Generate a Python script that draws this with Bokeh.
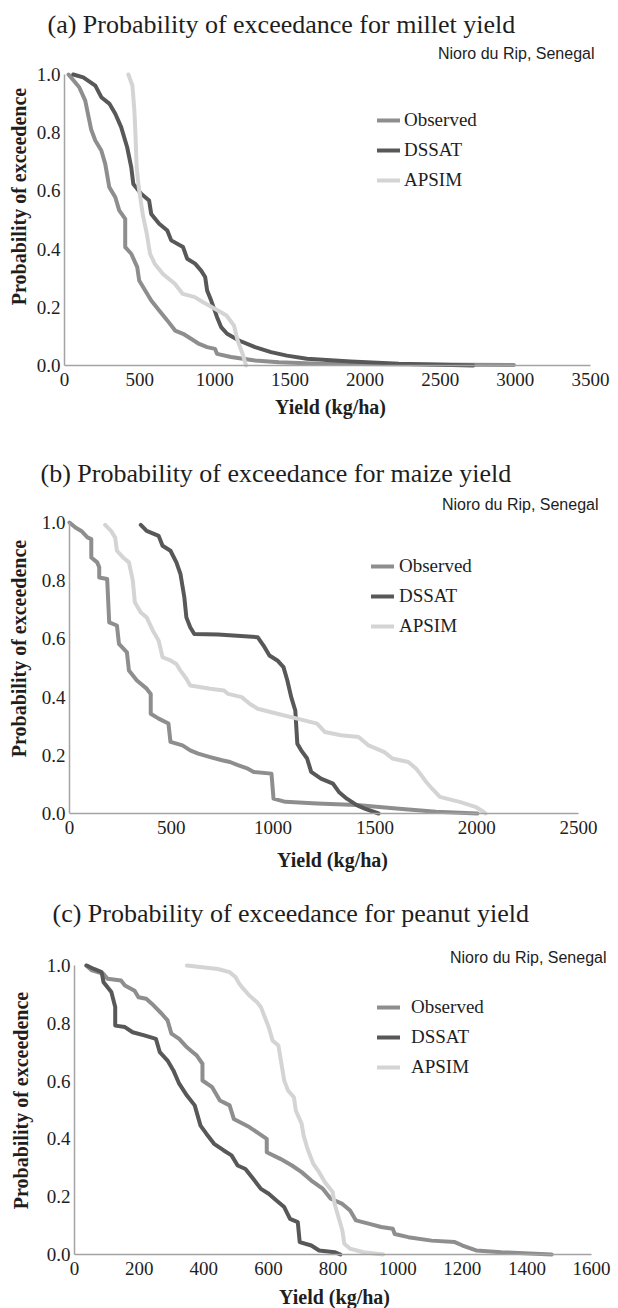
import math
from bokeh.plotting import figure
from bokeh.layouts import column
from bokeh.models import Label, Legend, LegendItem, FixedTicker, NumeralTickFormatter, Range1d
from bokeh.embed import file_html
from bokeh.resources import INLINE

SERIES = ["Observed", "DSSAT", "APSIM"]
COLORS = ["#8e8e8e", "#585858", "#d4d4d4"]
LOCATION = "Nioro du Rip, Senegal"
X_TITLE = "Yield (kg/ha)"
Y_TITLE = "Probability of exceedence"
Y_TICKS = [0.0, 0.2, 0.4, 0.6, 0.8, 1.0]

# ---- (a) millet ----
millet_title = "(a) Probability of exceedance for millet yield"
millet_xticks = [0, 500, 1000, 1500, 2000, 2500, 3000, 3500]
millet_obs_x = [27, 98, 138, 178, 205, 245, 271, 298, 338, 364, 404, 404, 444, 484, 497, 537, 577, 630, 684, 736, 789, 842, 896, 949, 1002, 1015, 1108, 1188, 1268, 1427, 1693, 2200, 2990]
millet_obs_p = [1.0, 0.956, 0.91, 0.81, 0.773, 0.739, 0.693, 0.613, 0.578, 0.533, 0.504, 0.407, 0.384, 0.338, 0.292, 0.258, 0.223, 0.189, 0.155, 0.12, 0.109, 0.092, 0.074, 0.063, 0.057, 0.04, 0.029, 0.023, 0.017, 0.011, 0.006, 0.004, 0.002]
millet_dssat_x = [58, 125, 205, 245, 298, 338, 377, 417, 444, 458, 510, 563, 577, 630, 684, 710, 789, 816, 869, 909, 936, 949, 976, 1015, 1042, 1082, 1161, 1268, 1374, 1480, 1613, 1905, 2224, 2720]
millet_dssat_p = [1.0, 0.99, 0.962, 0.922, 0.9, 0.865, 0.819, 0.75, 0.682, 0.624, 0.59, 0.567, 0.521, 0.487, 0.464, 0.43, 0.407, 0.367, 0.35, 0.326, 0.304, 0.258, 0.223, 0.166, 0.132, 0.109, 0.086, 0.063, 0.046, 0.034, 0.023, 0.014, 0.006, 0.0]
millet_apsim_x = [425, 452, 465, 472, 480, 494, 520, 548, 569, 601, 654, 734, 787, 867, 920, 1000, 1078, 1128, 1152, 1185, 1208]
millet_apsim_p = [1.0, 0.962, 0.876, 0.796, 0.682, 0.613, 0.521, 0.452, 0.384, 0.349, 0.315, 0.281, 0.246, 0.235, 0.218, 0.195, 0.172, 0.137, 0.086, 0.04, 0.0]

# ---- (b) maize ----
maize_title = "(b) Probability of exceedance for maize yield"
maize_xticks = [0, 500, 1000, 1500, 2000, 2500]
maize_obs_x = [0, 29, 58, 88, 107, 107, 136, 146, 146, 185, 195, 233, 243, 282, 292, 331, 379, 399, 399, 438, 486, 496, 555, 593, 632, 691, 749, 788, 827, 876, 905, 992, 1002, 1060, 1216, 1411, 1605, 1800, 2004]
maize_obs_p = [1.0, 0.983, 0.971, 0.949, 0.943, 0.88, 0.863, 0.846, 0.811, 0.806, 0.657, 0.646, 0.583, 0.554, 0.491, 0.457, 0.429, 0.411, 0.343, 0.326, 0.309, 0.246, 0.234, 0.217, 0.206, 0.194, 0.183, 0.177, 0.166, 0.154, 0.143, 0.137, 0.051, 0.04, 0.034, 0.029, 0.017, 0.006, 0.0]
maize_dssat_x = [350, 379, 438, 457, 496, 525, 545, 564, 574, 593, 613, 730, 924, 953, 982, 1021, 1051, 1070, 1089, 1109, 1119, 1138, 1167, 1187, 1235, 1294, 1323, 1362, 1411, 1450, 1518]
maize_dssat_p = [0.992, 0.971, 0.954, 0.92, 0.903, 0.863, 0.823, 0.743, 0.674, 0.64, 0.617, 0.615, 0.606, 0.577, 0.543, 0.526, 0.503, 0.457, 0.4, 0.354, 0.24, 0.217, 0.189, 0.143, 0.12, 0.103, 0.074, 0.051, 0.029, 0.017, 0.0]
maize_apsim_x = [175, 204, 224, 233, 263, 292, 311, 321, 350, 379, 409, 438, 457, 496, 525, 545, 574, 593, 691, 759, 779, 846, 885, 924, 1021, 1119, 1216, 1255, 1333, 1420, 1469, 1547, 1586, 1664, 1703, 1722, 1751, 1780, 1819, 1916, 1994, 2033, 2043]
maize_apsim_p = [0.992, 0.971, 0.949, 0.903, 0.88, 0.863, 0.8, 0.726, 0.691, 0.674, 0.629, 0.594, 0.537, 0.526, 0.514, 0.491, 0.463, 0.44, 0.429, 0.423, 0.411, 0.4, 0.377, 0.36, 0.343, 0.326, 0.309, 0.28, 0.269, 0.263, 0.234, 0.211, 0.189, 0.177, 0.154, 0.137, 0.109, 0.086, 0.057, 0.04, 0.023, 0.006, 0.0]

# ---- (c) peanut ----
peanut_title = "(c) Probability of exceedance for peanut yield"
peanut_xticks = [0, 200, 400, 600, 800, 1000, 1200, 1400, 1600]
peanut_obs_x = [36, 54, 90, 102, 144, 156, 186, 198, 222, 240, 270, 288, 300, 324, 348, 366, 378, 396, 396, 426, 450, 480, 493, 541, 571, 595, 595, 637, 673, 703, 733, 769, 793, 829, 853, 871, 913, 949, 985, 991, 1033, 1105, 1177, 1201, 1243, 1321, 1477]
peanut_obs_p = [1.0, 0.983, 0.971, 0.954, 0.948, 0.931, 0.913, 0.89, 0.885, 0.867, 0.833, 0.81, 0.764, 0.746, 0.717, 0.7, 0.689, 0.66, 0.602, 0.579, 0.533, 0.516, 0.469, 0.441, 0.418, 0.4, 0.354, 0.331, 0.308, 0.285, 0.256, 0.227, 0.193, 0.175, 0.152, 0.118, 0.106, 0.095, 0.089, 0.071, 0.06, 0.048, 0.043, 0.031, 0.014, 0.008, 0.0]
peanut_dssat_x = [38, 60, 84, 90, 114, 126, 126, 156, 180, 216, 252, 264, 288, 306, 324, 348, 372, 390, 408, 432, 462, 486, 505, 529, 553, 577, 601, 625, 649, 667, 691, 697, 733, 757, 805, 823]
peanut_dssat_p = [1.0, 0.988, 0.977, 0.942, 0.908, 0.856, 0.792, 0.787, 0.769, 0.758, 0.746, 0.7, 0.671, 0.637, 0.591, 0.55, 0.516, 0.446, 0.418, 0.383, 0.36, 0.343, 0.308, 0.296, 0.262, 0.227, 0.21, 0.187, 0.164, 0.123, 0.112, 0.043, 0.031, 0.014, 0.008, 0.0]
peanut_apsim_x = [348, 396, 444, 480, 498, 510, 523, 541, 565, 577, 589, 601, 613, 631, 637, 649, 661, 679, 685, 703, 709, 721, 739, 757, 775, 799, 805, 817, 829, 835, 853, 895, 955]
peanut_apsim_p = [1.0, 0.994, 0.988, 0.977, 0.96, 0.937, 0.919, 0.896, 0.873, 0.856, 0.821, 0.787, 0.74, 0.723, 0.683, 0.602, 0.567, 0.544, 0.498, 0.452, 0.412, 0.366, 0.314, 0.285, 0.25, 0.216, 0.175, 0.129, 0.083, 0.037, 0.02, 0.008, 0.0]

PAGE_W = 618
SERIF = "Liberation Serif"
SANS = "Liberation Sans"
TEXT = "#1e1e1e"


def make_panel(title, xmax, xticks, xs, ps, fig_top, fig_h, frame, title_pos,
               loc_pos, ytitle_pos, xtitle_pos, legend_pos, standoff):
    # frame: page px of x=0, x=xmax, p=1, p=0
    left, right, top1, bottom = frame
    kx = (right - left) / xmax
    ky = (bottom - top1)
    x0 = (0 - left) / kx
    x1 = (PAGE_W - left) / kx
    y1 = (bottom - fig_top) / ky
    y0 = (bottom - (fig_top + fig_h)) / ky
    p = figure(width=PAGE_W, height=fig_h, output_backend="svg", toolbar_location=None,
               x_range=Range1d(x0, x1), y_range=Range1d(y0, y1),
               min_border=0, min_border_left=0, min_border_right=0,
               min_border_top=0, min_border_bottom=0)
    p.frame_align = False
    p.outline_line_color = None
    p.grid.visible = False
    p.background_fill_color = "white"
    p.border_fill_color = "white"

    def dx(px):
        return (px - left) / kx

    def dy(py):
        return (bottom - py) / ky

    renderers = []
    for name, color, x, y in zip(SERIES, COLORS, xs, ps):
        r = p.line(x, y, line_color=color, line_width=4, line_join="round", line_cap="round")
        renderers.append(r)

    for ax in (p.xaxis[0], p.yaxis[0]):
        ax.fixed_location = 0
        ax.axis_line_color = "#a3a3a3"
        ax.axis_line_width = 1.5
        ax.major_tick_line_color = None
        ax.minor_tick_line_color = None
        ax.major_tick_in = 0
        ax.major_tick_out = 0
        ax.major_label_text_font = SERIF
        ax.major_label_text_font_size = "19px"
        ax.major_label_text_color = TEXT
    p.xaxis.bounds = (0, xmax)
    p.yaxis.bounds = (0, 1)
    p.xaxis.ticker = FixedTicker(ticks=xticks)
    p.xaxis.major_label_standoff = 7
    p.yaxis.ticker = FixedTicker(ticks=Y_TICKS)
    p.yaxis.formatter = NumeralTickFormatter(format="0.0")
    p.yaxis.major_label_standoff = 4

    p.add_layout(Label(x=dx(title_pos[0]), y=dy(title_pos[1]), text=title,
                       text_font=SERIF, text_font_size="26px", text_color=TEXT,
                       text_align="left", text_baseline="alphabetic"))
    p.add_layout(Label(x=dx(loc_pos[0]), y=dy(loc_pos[1]), text=LOCATION,
                       text_font=SANS, text_font_size="16px", text_color=TEXT,
                       text_align="right", text_baseline="alphabetic"))
    p.add_layout(Label(x=dx(ytitle_pos[0]), y=dy(ytitle_pos[1]), text=Y_TITLE,
                       angle=math.pi / 2, text_font=SERIF, text_font_size="20px",
                       text_font_style="bold", text_color=TEXT,
                       text_align="center", text_baseline="middle"))
    p.add_layout(Label(x=dx(xtitle_pos[0]), y=dy(xtitle_pos[1]), text=X_TITLE,
                       text_font=SERIF, text_font_size="20px",
                       text_font_style="bold", text_color=TEXT,
                       text_align="center", text_baseline="middle"))

    legend = Legend(items=[LegendItem(label=n, renderers=[r]) for n, r in zip(SERIES, renderers)],
                    location=legend_pos, orientation="vertical",
                    label_text_font=SERIF, label_text_font_size="19px", label_text_color=TEXT,
                    glyph_width=23, glyph_height=20, label_height=20, spacing=8,
                    label_standoff=standoff, padding=0, margin=0,
                    border_line_color=None, background_fill_alpha=0)
    p.add_layout(legend, "center")
    return p


pa = make_panel(millet_title, 3500, millet_xticks,
                [millet_obs_x, millet_dssat_x, millet_apsim_x],
                [millet_obs_p, millet_dssat_p, millet_apsim_p],
                fig_top=0, fig_h=440, frame=(64, 590, 74, 365),
                title_pos=(47, 24), loc_pos=(594, 53), ytitle_pos=(18, 196),
                xtitle_pos=(330, 406), legend_pos=(377, 249), standoff=4)

pb = make_panel(maize_title, 2500, maize_xticks,
                [maize_obs_x, maize_dssat_x, maize_apsim_x],
                [maize_obs_p, maize_dssat_p, maize_apsim_p],
                fig_top=440, fig_h=440, frame=(69, 578, 522, 813),
                title_pos=(40, 473), loc_pos=(598, 504), ytitle_pos=(18, 648),
                xtitle_pos=(332, 859), legend_pos=(371, 243), standoff=5)

pc = make_panel(peanut_title, 1600, peanut_xticks,
                [peanut_obs_x, peanut_dssat_x, peanut_apsim_x],
                [peanut_obs_p, peanut_dssat_p, peanut_apsim_p],
                fig_top=880, fig_h=428, frame=(74, 591, 965, 1254),
                title_pos=(52, 913), loc_pos=(606, 957), ytitle_pos=(20, 1100),
                xtitle_pos=(334, 1296), legend_pos=(377, 230), standoff=11)

layout = column(pa, pb, pc, spacing=0)
open("out.html", "w").write(file_html(layout, INLINE))
